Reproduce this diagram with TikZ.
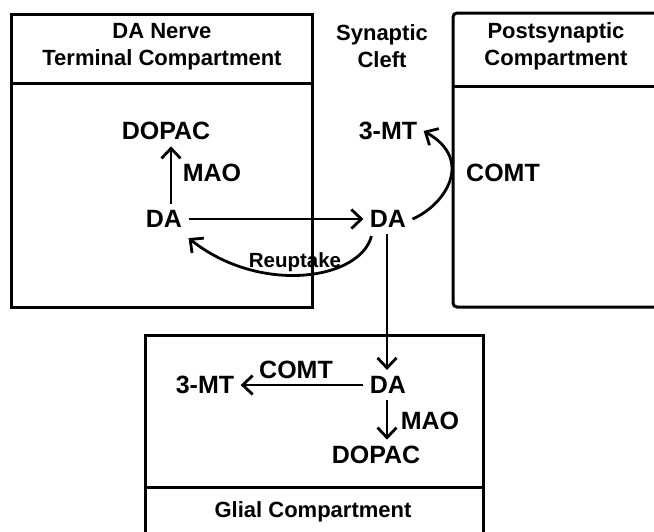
\documentclass[tikz,border=0pt]{standalone}
\usepackage{fontspec}
\setmainfont{Liberation Sans}
\usetikzlibrary{arrows.meta}
\tikzstyle{lbl} = [font=\bfseries\fontsize{25}{25}\selectfont, inner sep=5pt]
\tikzstyle{hdr} = [font=\bfseries\fontsize{22}{27}\selectfont, align=center]
\tikzstyle{arr} = [-{Straight Barb[length=10pt,width=19pt,line width=2.8pt]}, line width=2.8pt]

\begin{document}
\begin{tikzpicture}[x=1pt,y=-1pt,line width=3pt,node distance=88pt]
		\useasboundingbox (0,0) rectangle (654,531);
		\clip (0,0) rectangle (654,531);
		\draw (11,14) rectangle (312,307);
		\draw (11,83) -- (312,83);
		\draw[rounded corners=4pt] (700,13) -- (453,13) -- (453,307) -- (700,307);
		\draw (453,86) -- (700,86);
		\draw (145,560) -- (145,335) -- (483,335) -- (483,560);
		\draw (145,487) -- (483,487);
		
		\node[hdr](h1) at (162,47){DA Nerve\\Terminal Compartment};
		\node[hdr](h2) at (382,46){Synaptic\\Cleft};
		\node[hdr](h3) at (556,46){Postsynaptic\\Compartment};
		\node[hdr](h4) at (313,512){Glial Compartment};
		
		\node[lbl](da1) at (164,219){DA};
		\node[lbl,above of=da1,xshift=2pt](dopac1){DOPAC};
		\node[lbl](mao1) at (212,173){MAO};
		\node[lbl](da2) at (388,219){DA};
		\node[lbl,above of=da2](mt2){3-MT};
		\node[lbl](comt2) at (503,173){COMT};
		\node[lbl,font=\bfseries\fontsize{20.5}{20.5}\selectfont](re) at (295,262){Reuptake};
		
		\node[lbl](da3) at (388,385){DA};
		\node[lbl](mt3) at (205,385){3-MT};
		\node[lbl](comt3) at (296,370){COMT};
		\node[lbl](mao3) at (430,421){MAO};
		\node[lbl](dopac3) at (376,455){DOPAC};
		
		\draw[arr] ([xshift=7pt]da1.north) -- ([xshift=7pt]da1.north |- dopac1.south);
		\draw[arr] (da1) -- (da2);
		\draw[arr] (da2.east) .. controls (445,205) and (475,160) .. (mt2.east);
		\draw[arr] ([xshift=8pt,yshift=-2pt]da2.south west) .. controls (360,280) and (260,295) .. ([yshift=-4pt]da1.south east);
		\draw[arr] ([xshift=-1pt]da2.south) -- ([xshift=-1pt]da3.north);
		\draw[arr] (da3) -- (mt3);
		\draw[arr] ([xshift=-1pt]da3.south) -- ([xshift=-1pt]da3.south |- dopac3.north);
		\end{tikzpicture}
\end{document}
